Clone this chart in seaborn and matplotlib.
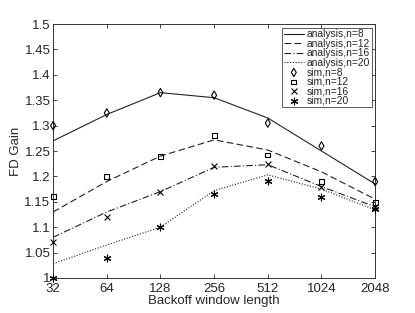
import matplotlib
matplotlib.use("Agg")
import matplotlib.pyplot as plt
import numpy as np
import seaborn as sns

window = [32, 64, 128, 256, 512, 1024, 2048]

analysis_n8 = [1.270, 1.322, 1.365, 1.355, 1.315, 1.250, 1.185]
analysis_n12 = [1.130, 1.190, 1.240, 1.272, 1.252, 1.209, 1.155]
analysis_n16 = [1.080, 1.130, 1.170, 1.218, 1.223, 1.180, 1.140]
analysis_n20 = [1.028, 1.065, 1.100, 1.172, 1.203, 1.175, 1.134]

sim_n8 = [1.300, 1.325, 1.365, 1.360, 1.305, 1.260, 1.190]
sim_n12 = [1.160, 1.200, 1.240, 1.280, 1.242, 1.190, 1.148]
sim_n16 = [1.070, 1.120, 1.170, 1.220, 1.225, 1.180, 1.140]
sim_n20 = [1.000, 1.040, 1.100, 1.165, 1.190, 1.160, 1.136]

font_size = 9.5


def main():
    sns.set_style("ticks")
    plt.rcParams["font.family"] = ["Liberation Sans", "DejaVu Sans"]

    x = np.log2(window)
    fig, ax = plt.subplots(figsize=(4.15, 3.13), dpi=100)

    styles = [("-", "analysis,n=8", analysis_n8),
              ((0, (6, 3)), "analysis,n=12", analysis_n12),
              ((0, (6, 2, 1, 2)), "analysis,n=16", analysis_n16),
              ((0, (1, 1.5)), "analysis,n=20", analysis_n20)]
    for ls, label, vals in styles:
        sns.lineplot(x=x, y=vals, ax=ax, color="#222222", linewidth=0.8,
                     linestyle=ls, label=label)

    markers = [("d", "sim,n=8", sim_n8, 18),
               ("s", "sim,n=12", sim_n12, 12),
               ("x", "sim,n=16", sim_n16, 18),
               ((6, 2, 0), "sim,n=20", sim_n20, 24)]
    for mk, label, vals, sz in markers:
        if mk == "x":
            sns.scatterplot(x=x, y=vals, ax=ax, marker=mk, color="black", s=sz,
                            linewidth=0.8, label=label, clip_on=False, zorder=5)
        else:
            filled = mk == (6, 2, 0)
            sns.scatterplot(x=x, y=vals, ax=ax, marker=mk, s=sz,
                            facecolor="black" if filled else "none",
                            edgecolor="black", linewidth=0.8, label=label,
                            clip_on=False, zorder=5)

    ax.set_xlim(x[0], x[-1])
    ax.set_ylim(1.0, 1.5)
    ax.set_xticks(x)
    ax.set_xticklabels([str(w) for w in window])
    ax.set_yticks(np.arange(1.0, 1.501, 0.05))
    ax.set_yticklabels(["1", "1.05", "1.1", "1.15", "1.2", "1.25", "1.3",
                        "1.35", "1.4", "1.45", "1.5"])
    ax.tick_params(direction="in", top=True, right=True, labelsize=font_size,
                   length=3, width=0.6, pad=2)
    ax.tick_params(axis="x", pad=4)
    for sp in ax.spines.values():
        sp.set_linewidth(0.7)
        sp.set_color("#333333")
    ax.set_xlabel("Backoff window length", fontsize=font_size, labelpad=0)
    ax.set_ylabel("FD Gain", fontsize=font_size, labelpad=2)

    leg = ax.legend(loc="upper right", fontsize=7.4, frameon=True, fancybox=False,
                    edgecolor="#333333", handlelength=2.0, handletextpad=0.25,
                    labelspacing=-0.05, borderpad=0.15, borderaxespad=0.35)
    leg.get_frame().set_linewidth(0.7)

    fig.subplots_adjust(left=0.128, right=0.904, top=0.923, bottom=0.112)
    fig.savefig("out.png", dpi=100)


if __name__ == "__main__":
    main()
